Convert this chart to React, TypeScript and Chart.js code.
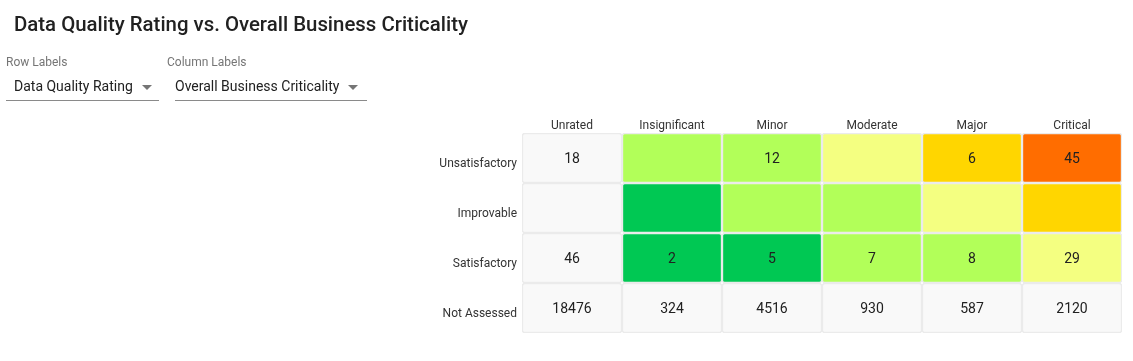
import React, { useEffect, useRef } from "react";
import { Chart, registerables } from "chart.js";

Chart.register(...registerables);

const title = "Data Quality Rating vs. Overall Business Criticality";
const rowSelectorLabel = "Row Labels";
const rowSelectorValue = "Data Quality Rating";
const colSelectorLabel = "Column Labels";
const colSelectorValue = "Overall Business Criticality";

const columns = ["Unrated", "Insignificant", "Minor", "Moderate", "Major", "Critical"];
const rows = ["Unsatisfactory", "Improvable", "Satisfactory", "Not Assessed"];

const valuesUnsatisfactory = [18, null, 12, null, 6, 45];
const valuesImprovable = [null, null, null, null, null, null];
const valuesSatisfactory = [46, 2, 5, 7, 8, 29];
const valuesNotAssessed = [18476, 324, 4516, 930, 587, 2120];

// risk level per cell: 0 neutral, 1 dark green, 2 light green, 3 pale yellow, 4 amber, 5 orange
const levelsUnsatisfactory = [0, 2, 2, 3, 4, 5];
const levelsImprovable = [0, 1, 2, 2, 3, 4];
const levelsSatisfactory = [0, 1, 1, 2, 2, 3];
const levelsNotAssessed = [0, 0, 0, 0, 0, 0];

const palette = ["#f9f9f9", "#00c853", "#b2ff59", "#f4ff81", "#ffd600", "#ff6d00"];

const rowValues = [valuesUnsatisfactory, valuesImprovable, valuesSatisfactory, valuesNotAssessed];
const rowLevels = [levelsUnsatisfactory, levelsImprovable, levelsSatisfactory, levelsNotAssessed];

const FONT = "Roboto, 'Noto Sans', Arial, sans-serif";

export default function App() {
  const canvasRef = useRef<HTMLCanvasElement | null>(null);

  useEffect(() => {
    const canvas = canvasRef.current;
    if (!canvas) return;
    const n = rows.length;

    const labelPlugin = {
      id: "cellLabels",
      afterDatasetsDraw(chart: any) {
        const ctx = chart.ctx;
        ctx.save();
        ctx.font = `400 14px ${FONT}`;
        ctx.fillStyle = "#212121";
        ctx.textAlign = "center";
        ctx.textBaseline = "middle";
        chart.data.datasets.forEach((ds: any, i: number) => {
          const meta = chart.getDatasetMeta(i);
          meta.data.forEach((el: any, j: number) => {
            const v = rowValues[i][j];
            if (v === null || v === undefined) return;
            const p = el.getProps(["x", "y", "base"], true);
            ctx.fillText(String(v), p.x, (p.y + p.base) / 2 + 1);
          });
        });
        ctx.restore();
      },
    };

    const chart = new Chart(canvas, {
      type: "bar",
      data: {
        labels: columns,
        datasets: rows.map((r, i) => ({
          label: r,
          data: columns.map(() => [n - 1 - i, n - i]) as any,
          backgroundColor: rowLevels[i].map((l) => palette[l]),
          borderColor: "#ebebeb",
          borderWidth: 1.5,
          borderRadius: 3,
          borderSkipped: false,
          barPercentage: 1,
          categoryPercentage: 1,
          grouped: false,
        })),
      },
      options: {
        responsive: false,
        animation: false,
        devicePixelRatio: 1,
        layout: { padding: { left: 0, right: 11, top: 0, bottom: 28 } },
        plugins: {
          legend: { display: false },
          tooltip: { enabled: false },
          title: { display: false },
        },
        scales: {
          x: {
            type: "category",
            position: "top",
            grid: { display: false, drawTicks: false },
            border: { display: false },
            ticks: {
              color: "#333333",
              font: { family: FONT, size: 12 },
              padding: 0,
              maxRotation: 0,
              autoSkip: false,
            },
            afterFit(scale: any) {
              scale.height = 133;
            },
          },
          y: {
            type: "linear",
            min: 0,
            max: n,
            grid: { display: false, drawTicks: false },
            border: { display: false },
            afterBuildTicks(scale: any) {
              scale.ticks = rows.map((_, i) => ({ value: n - 1 - i + 0.5 }));
            },
            ticks: {
              color: "#333333",
              font: { family: FONT, size: 12 },
              padding: 5,
              labelOffset: 6,
              autoSkip: false,
              callback(value: any) {
                const idx = n - 1 - Math.floor(Number(value));
                return rows[idx] ?? "";
              },
            },
            afterFit(scale: any) {
              scale.width = 522;
            },
          },
        },
      },
      plugins: [labelPlugin],
    } as any);

    return () => chart.destroy();
  }, []);

  const arrow = (
    <span
      style={{
        display: "inline-block",
        width: 0,
        height: 0,
        borderLeft: "5px solid transparent",
        borderRight: "5px solid transparent",
        borderTop: "5px solid #757575",
        marginLeft: 9,
        verticalAlign: "middle",
      }}
    />
  );

  return (
    <div
      style={{
        position: "absolute",
        left: 0,
        top: 0,
        width: 1133,
        height: 361,
        background: "#ffffff",
        fontFamily: FONT,
        overflow: "hidden",
      }}
    >
      <canvas
        ref={canvasRef}
        width={1133}
        height={361}
        style={{ position: "absolute", left: 0, top: 0, width: 1133, height: 361 }}
      />
      <div
        style={{
          position: "absolute",
          left: 14,
          top: 12,
          fontSize: 20.4,
          fontWeight: 500,
          color: "#212121",
          lineHeight: "24px",
          whiteSpace: "nowrap",
        }}
      >
        {title}
      </div>
      <div style={{ position: "absolute", left: 6, top: 55, fontSize: 12, color: "#757575", lineHeight: "14px" }}>
        {rowSelectorLabel}
      </div>
      <div
        style={{
          position: "absolute",
          left: 6,
          top: 76,
          width: 145,
          paddingLeft: 8,
          height: 24,
          borderBottom: "1px solid #8a8a8a",
          fontSize: 14,
          color: "#212121",
          lineHeight: "20px",
          whiteSpace: "nowrap",
        }}
      >
        {rowSelectorValue}
        {arrow}
      </div>
      <div style={{ position: "absolute", left: 167, top: 55, fontSize: 12, color: "#757575", lineHeight: "14px" }}>
        {colSelectorLabel}
      </div>
      <div
        style={{
          position: "absolute",
          left: 175,
          top: 76,
          width: 192,
          height: 24,
          borderBottom: "1px solid #8a8a8a",
          fontSize: 14,
          color: "#212121",
          lineHeight: "20px",
          whiteSpace: "nowrap",
        }}
      >
        {colSelectorValue}
        {arrow}
      </div>
    </div>
  );
}
